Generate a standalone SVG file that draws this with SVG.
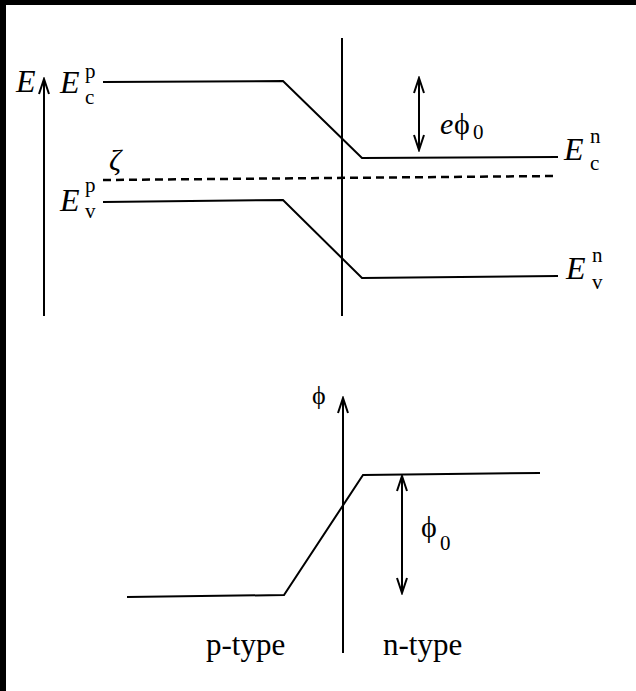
<svg xmlns="http://www.w3.org/2000/svg" width="636" height="691" viewBox="0 0 636 691">
<style>
.ln{fill:none;stroke:#000;stroke-width:2;stroke-linejoin:miter}
.dash{fill:none;stroke:#000;stroke-width:2.5;stroke-dasharray:8 5}
.t{font-family:"Liberation Serif","Times New Roman","DejaVu Serif",serif;fill:#000}
.it{font-style:italic}
</style>
<defs>
<marker id="ah" viewBox="-16 -8 18 16" refX="0" refY="0" markerWidth="18" markerHeight="16" markerUnits="userSpaceOnUse" orient="auto-start-reverse">
<path d="M-15,-5 L0,0 L-15,5" fill="none" stroke="#000" stroke-width="2"/>
</marker>
</defs>
<rect x="0" y="0" width="636" height="691" fill="#fff"/>
<rect x="0" y="0" width="636" height="5" fill="#000"/>
<rect x="0" y="0" width="6" height="691" fill="#000"/>
<g id="connectors">
<line id="E-axis" class="ln" x1="44" y1="316" x2="44" y2="79" marker-end="url(#ah)"/>
<line id="junction-top" class="ln" x1="342" y1="38" x2="342" y2="316"/>
<polyline id="Ec" class="ln" points="103,82 283,81 362,158 558,157"/>
<polyline id="Ev" class="ln" points="103,202 283,200 362,278 558,276"/>
<line id="zeta" class="dash" x1="103" y1="180" x2="556" y2="176"/>
<line id="ephi0-arrow" class="ln" x1="419" y1="78" x2="419" y2="150" marker-start="url(#ah)" marker-end="url(#ah)"/>
<line id="phi-axis" class="ln" x1="343" y1="653" x2="343" y2="398" marker-end="url(#ah)"/>
<polyline id="phi-curve" class="ln" points="127,597 284,595 363,475 540,473"/>
<line id="phi0-arrow" class="ln" x1="402" y1="476" x2="402" y2="593" marker-start="url(#ah)" marker-end="url(#ah)"/>
</g>
<g id="label-E"><text class="t it" x="16" y="92" font-size="32">E</text></g>
<g id="label-Ecp">
<text class="t it" x="60" y="93" font-size="32">E</text>
<text class="t" x="85" y="78" font-size="21">p</text>
<text class="t" x="85" y="104" font-size="21">c</text>
</g>
<g id="label-zeta"><text class="t it" x="109" y="170" font-size="30">ζ</text></g>
<g id="label-Evp">
<text class="t it" x="60" y="211" font-size="32">E</text>
<text class="t" x="85" y="192" font-size="21">p</text>
<text class="t" x="85" y="218" font-size="21">v</text>
</g>
<g id="label-ephi0">
<text class="t it" x="440" y="134" font-size="30">e</text>
<text class="t" x="454" y="134" font-size="30">ϕ</text>
<text class="t" x="473" y="139" font-size="21">0</text>
</g>
<g id="label-Ecn">
<text class="t it" x="564" y="160" font-size="32">E</text>
<text class="t" x="590" y="143" font-size="21">n</text>
<text class="t" x="590" y="170" font-size="21">c</text>
</g>
<g id="label-Evn">
<text class="t it" x="566" y="279" font-size="32">E</text>
<text class="t" x="592" y="262" font-size="21">n</text>
<text class="t" x="592" y="289" font-size="21">v</text>
</g>
<g id="label-phi"><text class="t" x="312" y="404" font-size="26">ϕ</text></g>
<g id="label-phi0">
<text class="t" x="421" y="537" font-size="30">ϕ</text>
<text class="t" x="440" y="550" font-size="21">0</text>
</g>
<g id="label-ptype"><text class="t" x="206" y="655" font-size="31">p-type</text></g>
<g id="label-ntype"><text class="t" x="383" y="655" font-size="31">n-type</text></g>
</svg>
